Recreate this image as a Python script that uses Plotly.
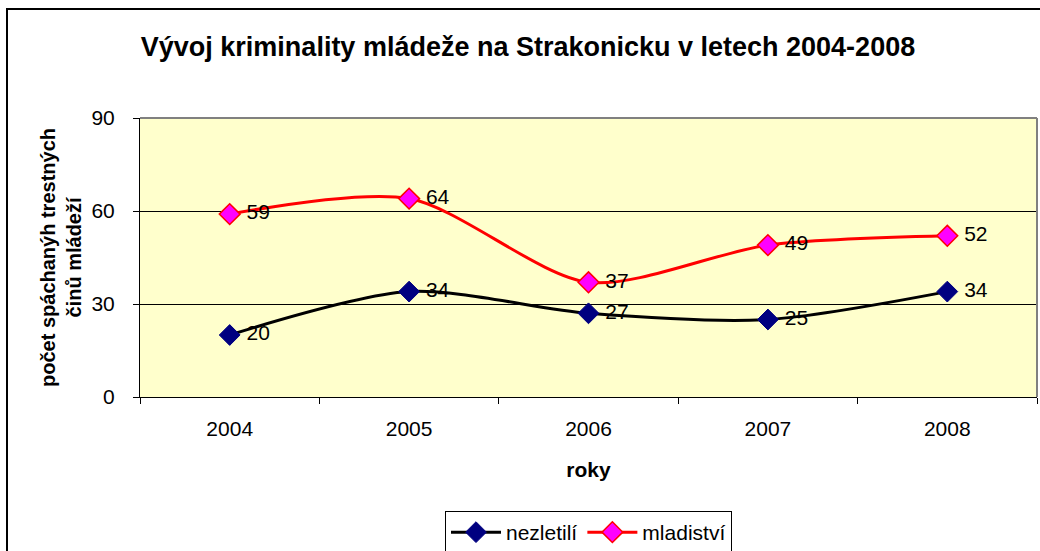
import plotly.graph_objects as go

years = ["2004", "2005", "2006", "2007", "2008"]
nezletili = [20, 34, 27, 25, 34]
mladistvi = [59, 64, 37, 49, 52]
y_ticks = [0, 30, 60, 90]

FONT = "Liberation Sans, Arial, sans-serif"
NB = "\u00a0"

fig = go.Figure()
fig.add_trace(go.Scatter(
    x=years, y=nezletili, name="nezletilí", mode="lines+markers+text",
    line=dict(color="#000000", width=3, shape="spline", smoothing=0.8),
    marker=dict(symbol="diamond", size=16, color="#000080", line=dict(color="#000080", width=1)),
    text=[NB + str(v) for v in nezletili], textposition="middle right",
    textfont=dict(family=FONT, size=21, color="#000000"),
))
fig.add_trace(go.Scatter(
    x=years, y=mladistvi, name="mladiství", mode="lines+markers+text",
    line=dict(color="#FF0000", width=3, shape="spline", smoothing=0.8),
    marker=dict(symbol="diamond", size=16, color="#FF00FF", line=dict(color="#FF0000", width=1.5)),
    text=[NB + str(v) for v in mladistvi], textposition="middle right",
    textfont=dict(family=FONT, size=21, color="#000000"),
))

L, R, T, B = 140, 3, 118, 154
W, H = 1040, 551
pw, ph = W - L - R, H - T - B

fig.update_layout(
    width=W, height=H,
    margin=dict(l=L, r=R, t=T, b=B, autoexpand=False),
    paper_bgcolor="#FFFFFF",
    plot_bgcolor="#FFFFCC",
    font=dict(family=FONT, size=21, color="#000000"),
    title=dict(text="<b>Vývoj kriminality mládeže na Strakonicku v letech 2004-2008</b>",
               x=528 / W, xanchor="center", y=1 - 47 / H, yanchor="middle",
               font=dict(family=FONT, size=27, color="#000000")),
    showlegend=True,
    legend=dict(orientation="h", x=0.5, xanchor="center", y=(T + ph - 511) / ph, yanchor="top",
                bordercolor="#000000", borderwidth=1, bgcolor="#FFFFFF",
                font=dict(family=FONT, size=21), tracegroupgap=0, itemwidth=50),
    xaxis=dict(
        type="category", range=[-0.5, 4.5], automargin=False,
        showline=True, linecolor="#000000", linewidth=1, mirror=False,
        ticks="outside", ticklen=6, tickcolor="#000000", tickson="boundaries",
        showgrid=False, tickfont=dict(size=21), ticklabelstandoff=13,
        title=dict(text="<b>roky</b>", font=dict(size=21), standoff=23),
    ),
    yaxis=dict(
        range=[0, 90], tickvals=y_ticks, automargin=False,
        showline=True, linecolor="#000000", linewidth=1,
        ticks="outside", ticklen=6, tickcolor="#000000",
        showgrid=True, gridcolor="#000000", gridwidth=1,
        tickfont=dict(size=21), zeroline=False, ticklabelstandoff=14,
        title=dict(text="<b>počet spáchanýh trestných<br>činů mládeží</b>", font=dict(size=20), standoff=4),
    ),
)

# plot area border (top/right gray)
fig.add_shape(type="line", xref="paper", yref="paper", x0=0, x1=1, y0=1, y1=1,
              line=dict(color="#808080", width=2))
fig.add_shape(type="line", xref="paper", yref="paper", x0=1, x1=1, y0=0, y1=1,
              line=dict(color="#808080", width=2))
# outer chart border (cropped)
fig.add_shape(type="rect", xref="paper", yref="paper",
              x0=(7 - L) / pw, x1=(W + 20 - L) / pw,
              y0=(T + ph - (H + 20)) / ph, y1=(T + ph - 9) / ph,
              line=dict(color="#000000", width=2), layer="below")

fig.write_html("out.html", config={"displayModeBar": False},
               post_script="document.body.style.margin='0';document.body.style.overflow='hidden';")
